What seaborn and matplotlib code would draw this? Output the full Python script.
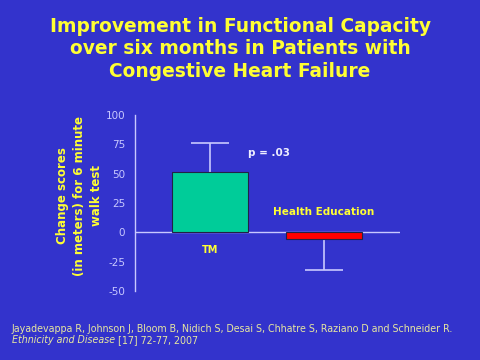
import pandas as pd
import seaborn as sns
import matplotlib.pyplot as plt

# data
groups = ['TM', 'Health Education']
change = [51, -6]
err_up = [25, 0]
err_down = [0, 26]
bar_colors = ['#00cc99', '#ff0000']
yticks = [-50, -25, 0, 25, 50, 75, 100]

bg = '#3333cc'
yellow = '#ffff33'
lav = '#c8c8ff'

sns.set_style('white')
plt.rcParams['font.family'] = ['DejaVu Sans']

df = pd.DataFrame({'group': groups, 'change': change})

fig = plt.figure(figsize=(4.8, 3.6), dpi=100, facecolor=bg)
ax = fig.add_axes([0.281, 0.1917, 0.552, 0.489])
ax.set_facecolor(bg)

sns.barplot(data=df, x='group', y='change', hue='group', palette=bar_colors,
            saturation=1, width=0.667, edgecolor='#222244', linewidth=0.8,
            legend=False, errorbar=None, ax=ax, zorder=2)

# one-sided error bars: stem plus a single cap at the tip
xs = list(range(len(groups)))
tips = [c + u - d for c, u, d in zip(change, err_up, err_down)]
ax.errorbar(xs, change, yerr=[err_down, err_up], fmt='none',
            ecolor=lav, elinewidth=1.2, capsize=0, zorder=1)
ax.plot(xs, tips, ls='none', marker='_', ms=27.4, mew=1.2, color=lav, zorder=1)

ax.set_xlim(-0.658, 1.667)
ax.set_ylim(-50, 100)
ax.set_yticks(yticks)
ax.set_yticklabels([str(t) for t in yticks], color=lav, fontsize=7.5)
ax.tick_params(axis='y', direction='out', length=4, width=1, colors=lav, pad=3)
ax.set_xticks([])
ax.set_xlabel('')
ax.set_ylabel('')
for s in ['top', 'right', 'bottom']:
    ax.spines[s].set_visible(False)
ax.spines['left'].set_color(lav)
ax.spines['left'].set_linewidth(1)
ax.axhline(0, color=lav, lw=1, zorder=1.5)

ax.text(0, -15, 'TM', color=yellow, fontsize=7, fontweight='bold',
        ha='center', va='center')
ax.text(1, 17, 'Health Education', color=yellow, fontsize=7.5, fontweight='bold',
        ha='center', va='center')
ax.text(0.52, 68, 'p = .03', color='#eeeeff', fontsize=7.5, fontweight='bold',
        ha='center', va='center')

fig.text(0.165, 0.456, 'Change scores\n(in meters) for 6 minute\nwalk test',
         rotation=90, color=yellow, fontsize=8.5, fontweight='bold',
         ha='center', va='center', linespacing=1.4)

fig.text(0.5, 0.864, 'Improvement in Functional Capacity\n'
         'over six months in Patients with\nCongestive Heart Failure',
         color=yellow, fontsize=13.4, fontweight='bold',
         ha='center', va='center', linespacing=1.22)

foot = '#e6e6a0'
fig.text(0.025, 0.086, 'Jayadevappa R, Johnson J, Bloom B, Nidich S, Desai S, '
         'Chhatre S, Raziano D and Schneider R.', color=foot, fontsize=6.85,
         ha='left', va='center')
t1 = fig.text(0.025, 0.055, 'Ethnicity and Disease', color=foot, fontsize=6.85,
              style='italic', ha='left', va='center')
fig.canvas.draw()
bb = t1.get_window_extent().transformed(fig.transFigure.inverted())
fig.text(bb.x1 + 0.006, 0.055, '[17] 72-77, 2007', color=foot, fontsize=6.85,
         ha='left', va='center')

fig.savefig('out.png', dpi=100, facecolor=bg)
